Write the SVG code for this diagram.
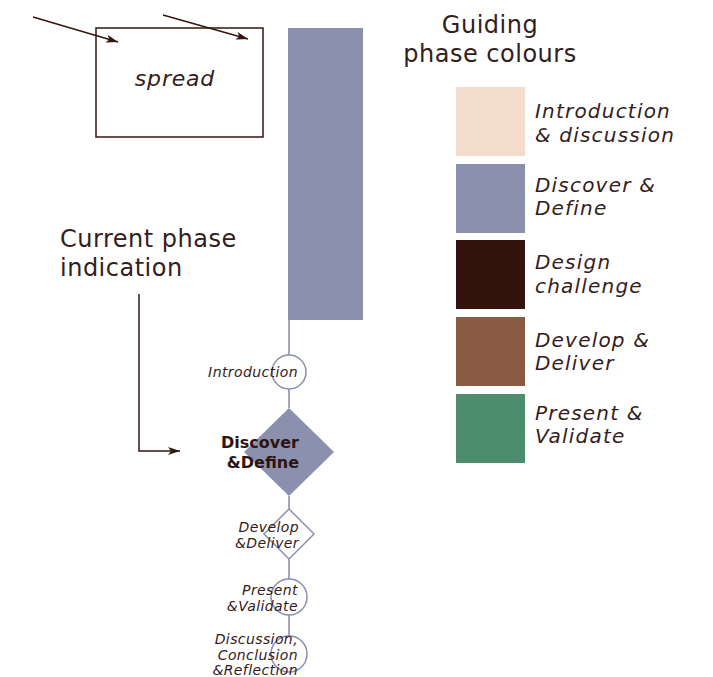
<svg xmlns="http://www.w3.org/2000/svg" width="713" height="677" viewBox="0 0 713 677">
  <style>
    text { font-family: "DejaVu Sans", "Liberation Sans", sans-serif; fill: #33201c; }
    .title { font-size: 24px; letter-spacing: 0.5px; }
    .legend { font-size: 20px; font-style: italic; letter-spacing: 1.2px; }
    .small { font-size: 14px; font-style: italic; text-anchor: end; letter-spacing: 0.4px; }
    .bold { font-size: 16px; font-weight: bold; text-anchor: end; fill: #2e1410; }
    .timeline { stroke: #8a90b0; stroke-width: 1.6; fill: none; }
    .pointer { stroke: #33160f; stroke-width: 1.5; fill: none; }
  </style>
  <defs>
    <marker id="head" viewBox="0 0 12 8" refX="12" refY="4" markerWidth="12" markerHeight="8" markerUnits="userSpaceOnUse" orient="auto">
      <path d="M0,0 L12,4 L0,8 L3,4 Z" fill="#33160f"/>
    </marker>
  </defs>

  <rect width="713" height="677" fill="#ffffff"/>

  <!-- connectors -->
  <g id="connectors">
    <line class="pointer" x1="33" y1="17" x2="118" y2="42" marker-end="url(#head)"/>
    <line class="pointer" x1="163" y1="15" x2="248" y2="39" marker-end="url(#head)"/>
    <path class="pointer" d="M139,294 V451 H180" marker-end="url(#head)"/>
    <line class="timeline" x1="289" y1="320" x2="289" y2="355"/>
    <line class="timeline" x1="289" y1="389" x2="289" y2="408"/>
    <line class="timeline" x1="289" y1="496" x2="289" y2="509"/>
    <line class="timeline" x1="289" y1="559" x2="289" y2="579"/>
    <line class="timeline" x1="289" y1="615" x2="289" y2="636"/>
  </g>

  <!-- spread frame -->
  <g id="spread">
    <rect x="96" y="28" width="167" height="109" fill="none" stroke="#33160f" stroke-width="1.5"/>
    <text x="175" y="86" font-size="22" font-style="italic" text-anchor="middle" letter-spacing="0.8">spread</text>
  </g>

  <!-- current phase bar -->
  <g id="phase-bar">
    <rect x="288" y="28" width="75" height="292" fill="#8a90ae"/>
  </g>

  <!-- annotation -->
  <g id="current-phase-label">
    <text class="title" x="60" y="247">Current phase</text>
    <text class="title" x="60" y="276">indication</text>
  </g>

  <!-- phase timeline -->
  <g id="introduction">
    <circle cx="289" cy="372" r="17" fill="#ffffff" stroke="#8a90b0" stroke-width="1.5"/>
    <text class="small" x="298" y="377">Introduction</text>
  </g>
  <g id="discover-define">
    <polygon points="289,408 334,452 289,496 244,452" fill="#8a90ae"/>
    <text class="bold" x="299" y="448">Discover</text>
    <text class="bold" x="299" y="468">&amp;Define</text>
  </g>
  <g id="develop-deliver">
    <polygon points="289,509 314,534 289,559 264,534" fill="#ffffff" stroke="#8a90b0" stroke-width="1.5"/>
    <text class="small" x="299" y="532">Develop</text>
    <text class="small" x="299" y="548">&amp;Deliver</text>
  </g>
  <g id="present-validate">
    <circle cx="289" cy="597" r="18" fill="none" stroke="#8a90b0" stroke-width="1.5"/>
    <text class="small" x="298" y="595">Present</text>
    <text class="small" x="298" y="611">&amp;Validate</text>
  </g>
  <g id="discussion">
    <circle cx="289" cy="654" r="18" fill="none" stroke="#8a90b0" stroke-width="1.5"/>
    <text class="small" x="298" y="644">Discussion,</text>
    <text class="small" x="298" y="660">Conclusion</text>
    <text class="small" x="298" y="675">&amp;Reflection</text>
  </g>

  <!-- legend -->
  <g id="legend-title">
    <text class="title" x="490" y="33" text-anchor="middle">Guiding</text>
    <text class="title" x="490" y="62" text-anchor="middle">phase colours</text>
  </g>
  <g id="legend-intro">
    <rect x="456" y="87" width="69" height="69" fill="#f4dccc"/>
    <text class="legend" x="535" y="118">Introduction</text>
    <text class="legend" x="535" y="142">&amp; discussion</text>
  </g>
  <g id="legend-discover">
    <rect x="456" y="164" width="69" height="69" fill="#8a90ae"/>
    <text class="legend" x="535" y="192">Discover &amp;</text>
    <text class="legend" x="535" y="215">Define</text>
  </g>
  <g id="legend-design">
    <rect x="456" y="240" width="69" height="69" fill="#32130e"/>
    <text class="legend" x="535" y="269">Design</text>
    <text class="legend" x="535" y="293">challenge</text>
  </g>
  <g id="legend-develop">
    <rect x="456" y="317" width="69" height="69" fill="#8b5a42"/>
    <text class="legend" x="535" y="347">Develop &amp;</text>
    <text class="legend" x="535" y="370">Deliver</text>
  </g>
  <g id="legend-present">
    <rect x="456" y="394" width="69" height="69" fill="#4e8c6e"/>
    <text class="legend" x="535" y="420">Present &amp;</text>
    <text class="legend" x="535" y="443">Validate</text>
  </g>
</svg>
